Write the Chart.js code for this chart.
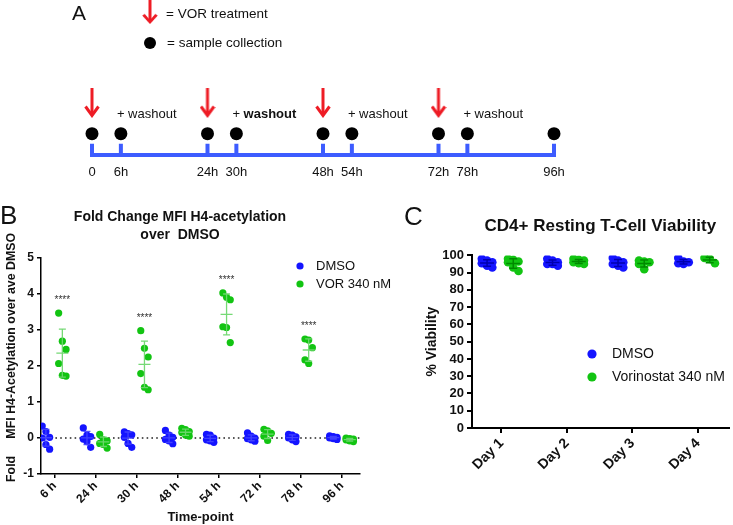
<!DOCTYPE html>
<html>
<head>
<meta charset="utf-8">
<script src="https://cdn.jsdelivr.net/npm/chart.js@4.4.1/dist/chart.umd.min.js"></script>
<style>
  body { margin: 0; background: #fff; }
  #wrap { position: relative; width: 733px; height: 525px; overflow: hidden; font-family: 'Liberation Sans', Arial, sans-serif; }
  canvas { position: absolute; }
  .panel { position: absolute; line-height: 1; color: #111; }
</style>
</head>
<body>
<div id="wrap">
  <canvas id="timeline" width="733" height="200" style="left:0;top:0"></canvas>
  <canvas id="acetyl" width="400" height="325" style="left:0;top:200px"></canvas>
  <canvas id="viability" width="333" height="325" style="left:400px;top:200px"></canvas>
  <div class="panel" style="left:72px;top:2px;font-size:21px">A</div>
  <div class="panel" style="left:0;top:202px;font-size:26px">B</div>
  <div class="panel" style="left:404px;top:203px;font-size:26px">C</div>
</div>
<script>
// Panel A: dosing / sampling schedule
const HOURS = [0, 6, 24, 30, 48, 54, 72, 78, 96];
const TREAT_HOURS = [0, 24, 48, 72];
const WASHOUT_HOURS = [6, 30, 54, 78];
const WASHOUT_BOLD = [false, true, false, false];

// Panel B: fold change MFI H4-acetylation over ave DMSO
const TIMEPOINTS = ['6 h', '24 h', '30 h', '48 h', '54 h', '72 h', '78 h', '96 h'];
const DMSO_FOLD = [
  [0.33, 0.18, 0.02, 0.00, -0.18, -0.31],
  [0.28, 0.08, 0.04, -0.03, -0.10, -0.26],
  [0.17, 0.12, 0.09, 0.02, -0.15, -0.26],
  [0.21, 0.08, 0.02, -0.04, -0.08, -0.16],
  [0.10, 0.08, 0.00, -0.05, -0.08, -0.12],
  [0.14, 0.05, 0.00, -0.02, -0.05, -0.09],
  [0.10, 0.08, 0.03, 0.00, -0.05, -0.10],
  [0.06, 0.04, 0.02, 0.00, -0.02, -0.04]
];
const VOR_FOLD = [
  [3.47, 2.69, 2.46, 2.07, 1.74, 1.72],
  [0.10, -0.05, -0.08, -0.15, -0.18, -0.28],
  [2.98, 2.49, 2.25, 1.79, 1.41, 1.34],
  [0.27, 0.23, 0.18, 0.15, 0.08, 0.05],
  [4.03, 3.91, 3.84, 3.09, 3.07, 2.65],
  [0.24, 0.20, 0.13, 0.05, -0.07],
  [2.75, 2.72, 2.51, 2.17, 2.07],
  [0.00, -0.02, -0.03, -0.05, -0.08, -0.10]
];
const SIGNIF = ['****', '', '****', '', '****', '', '****', ''];
const FOLD_TICKS = [-1, 0, 1, 2, 3, 4, 5];

// Panel C: CD4+ resting T-cell viability (%)
const DAYS = ['Day 1', 'Day 2', 'Day 3', 'Day 4'];
const DMSO_VIAB = [
  [98, 97, 96, 95.5, 94, 93],
  [98, 97, 96, 95, 95, 94],
  [98.5, 97, 96, 95, 94, 93],
  [98.5, 96.5, 96, 95.5, 95]
];
const VOR_VIAB = [
  [98, 97.5, 96.5, 96, 93, 91],
  [98, 97.5, 97, 96, 95.5, 95],
  [97, 96.5, 96, 95, 92],
  [98.5, 98, 95.5]
];
const VIAB_TICKS = [0, 10, 20, 30, 40, 50, 60, 70, 80, 90, 100];

const FONT = "'Liberation Sans', Arial, sans-serif";
Chart.defaults.font.family = FONT;
Chart.defaults.color = '#111';

const BLUE = '#1414ff';
const GREEN = '#12c412';
const LINE_BLUE = '#3d5cff';
const ARROW_RED = '#ee1c25';

function makeArrow() {
  const c = document.createElement('canvas');
  c.width = 16; c.height = 30;
  const g = c.getContext('2d');
  g.strokeStyle = ARROW_RED;
  g.lineWidth = 3;
  g.beginPath(); g.moveTo(8, 0); g.lineTo(8, 27); g.stroke();
  g.beginPath(); g.moveTo(1.5, 18.5); g.lineTo(8, 27.5); g.lineTo(14.5, 18.5); g.stroke();
  return c;
}
const arrowImg = makeArrow();

// spread the replicate dots of each group sideways around the group centre
function spread(groups, offset, width) {
  const pts = [];
  groups.forEach((vals, i) => {
    vals.forEach((v, j) => pts.push({ x: i + 1 + offset + ((j % 3) - 1) * width, y: v }));
  });
  return pts;
}

function meanSd(vals) {
  const m = vals.reduce((a, b) => a + b, 0) / vals.length;
  const sd = Math.sqrt(vals.reduce((a, b) => a + (b - m) * (b - m), 0) / (vals.length - 1));
  return { m, sd };
}

function errorBars(groups) {
  return {
    id: 'errorBars',
    afterDatasetsDraw(chart) {
      const { ctx, scales: { x, y } } = chart;
      ctx.save();
      groups.forEach(g => {
        ctx.strokeStyle = g.color;
        ctx.lineWidth = g.width;
        g.values.forEach((vals, i) => {
          const { m, sd } = meanSd(vals);
          const cx = x.getPixelForValue(i + 1 + g.offset);
          const ym = y.getPixelForValue(m);
          const yt = y.getPixelForValue(m + sd);
          const yb = y.getPixelForValue(m - sd);
          ctx.beginPath();
          ctx.moveTo(cx - g.meanHalf, ym); ctx.lineTo(cx + g.meanHalf, ym);
          ctx.moveTo(cx, yt); ctx.lineTo(cx, yb);
          ctx.moveTo(cx - g.capHalf, yt); ctx.lineTo(cx + g.capHalf, yt);
          ctx.moveTo(cx - g.capHalf, yb); ctx.lineTo(cx + g.capHalf, yb);
          ctx.stroke();
        });
      });
      ctx.restore();
    }
  };
}

function insetLegend(o) {
  return {
    id: 'insetLegend',
    afterDraw(chart) {
      const ctx = chart.ctx;
      ctx.save();
      ctx.font = o.size + 'px ' + FONT;
      ctx.textBaseline = 'middle';
      chart.data.datasets.filter(d => d.inLegend).forEach((d, i) => {
        const cy = o.y + i * o.gap;
        ctx.fillStyle = d.backgroundColor;
        ctx.beginPath(); ctx.arc(o.x, cy, o.r, 0, Math.PI * 2); ctx.fill();
        ctx.fillStyle = '#111';
        ctx.fillText(d.label, o.textX, cy);
      });
      ctx.restore();
    }
  };
}

const starsPlugin = {
  id: 'stars',
  afterDatasetsDraw(chart) {
    const { ctx, scales: { x, y } } = chart;
    ctx.save();
    ctx.font = '10px ' + FONT;
    ctx.fillStyle = '#333';
    ctx.textAlign = 'center';
    ctx.textBaseline = 'middle';
    SIGNIF.forEach((s, i) => {
      if (!s) return;
      const top = Math.max(...VOR_FOLD[i]);
      ctx.fillText(s, x.getPixelForValue(i + 1.19), y.getPixelForValue(top + 0.36));
    });
    ctx.restore();
  }
};

// ---------- Panel A ----------
const TICK_H = 12, DOT_Y = 23, ARROW_Y = 56, NOTE_Y = 44;
const timelineNotes = {
  id: 'timelineNotes',
  afterDraw(chart) {
    const { ctx, scales: { x, y } } = chart;
    ctx.save();
    ctx.fillStyle = '#111';
    ctx.textBaseline = 'middle';
    WASHOUT_HOURS.forEach((h, i) => {
      const px = x.getPixelForValue(h) - 4;
      const py = y.getPixelForValue(NOTE_Y);
      ctx.font = '13px ' + FONT;
      ctx.fillText('+ ', px, py);
      const w = ctx.measureText('+ ').width;
      ctx.font = (WASHOUT_BOLD[i] ? 'bold ' : '') + '13px ' + FONT;
      ctx.fillText('washout', px + w, py);
    });
    // key
    ctx.drawImage(arrowImg, 142, 0, 16, 24);
    ctx.fillStyle = '#000';
    ctx.beginPath(); ctx.arc(150, 43, 6, 0, Math.PI * 2); ctx.fill();
    ctx.fillStyle = '#111';
    ctx.font = '13.5px ' + FONT;
    ctx.fillText('= VOR treatment', 166, 14);
    ctx.fillText('= sample collection', 167, 43);
    ctx.restore();
  }
};

new Chart(document.getElementById('timeline'), {
  type: 'scatter',
  data: {
    datasets: [
      { data: [{ x: 0, y: 0 }, { x: 96, y: 0 }], showLine: true, borderColor: LINE_BLUE,
        borderWidth: 4, borderCapStyle: 'square', pointRadius: 0, clip: false },
      { data: HOURS.flatMap(h => [{ x: h, y: 0 }, { x: h, y: TICK_H }, { x: h, y: null }]),
        showLine: true, spanGaps: false, borderColor: LINE_BLUE, borderWidth: 4, pointRadius: 0, clip: false },
      { data: HOURS.map(h => ({ x: h, y: DOT_Y })), pointRadius: 6.5, backgroundColor: '#000',
        borderWidth: 0, clip: false },
      { data: TREAT_HOURS.map(h => ({ x: h, y: ARROW_Y })), pointStyle: arrowImg, pointRadius: 10, clip: false }
    ]
  },
  options: {
    responsive: false, animation: false, events: [],
    layout: { padding: { left: 92, right: 179, top: 0, bottom: 15 } },
    plugins: { legend: { display: false }, tooltip: { enabled: false } },
    scales: {
      x: {
        type: 'linear', min: 0, max: 96,
        afterBuildTicks: s => { s.ticks = HOURS.map(h => ({ value: h })); },
        afterFit: s => { s.height = 30; },
        grid: { display: false, drawTicks: false }, border: { display: false },
        ticks: { padding: 10, font: { size: 13 }, color: '#111', autoSkip: false, maxRotation: 0,
          callback: v => (v === 0 ? '0' : v + 'h') }
      },
      y: { display: false, min: 0, max: 155 }
    }
  },
  plugins: [timelineNotes]
});

// ---------- Panel B ----------
new Chart(document.getElementById('acetyl'), {
  type: 'scatter',
  data: {
    datasets: [
      { label: 'DMSO', inLegend: true, data: spread(DMSO_FOLD, -0.21, 0.09),
        backgroundColor: BLUE, borderWidth: 0, pointRadius: 3.6, order: 1 },
      { label: 'VOR 340 nM', inLegend: true, data: spread(VOR_FOLD, 0.19, 0.09),
        backgroundColor: GREEN, borderWidth: 0, pointRadius: 3.6, order: 1 },
      { label: 'zero', data: [{ x: 0.67, y: 0 }, { x: 8.44, y: 0 }], showLine: true, pointRadius: 0,
        borderColor: '#222', borderWidth: 1.6, borderDash: [1.6, 3.2], order: 5 }
    ]
  },
  options: {
    responsive: false, animation: false, events: [],
    layout: { padding: { left: 0, right: 40, top: 0, bottom: 0 } },
    plugins: {
      legend: { display: false }, tooltip: { enabled: false },
      title: { display: true, text: ['Fold Change MFI H4-acetylation', 'over  DMSO'], color: '#111',
        font: { size: 14, weight: 'bold', lineHeight: 1.3 }, padding: { top: 8, bottom: 13.6 } }
    },
    scales: {
      x: {
        type: 'linear', min: 0.67, max: 8.44,
        afterBuildTicks: s => { s.ticks = TIMEPOINTS.map((t, i) => ({ value: i + 1 })); },
        afterFit: s => { s.height = 51; },
        grid: { display: true, drawOnChartArea: false, color: '#000', lineWidth: 1.5, tickLength: 4 },
        border: { color: '#000', width: 1.5 },
        ticks: { autoSkip: false, minRotation: 45, maxRotation: 45, padding: 1, color: '#111',
          font: { size: 12, weight: 'bold' }, callback: (v, i) => TIMEPOINTS[i] },
        title: { display: true, text: 'Time-point', color: '#111', font: { size: 13, weight: 'bold' },
          padding: { top: 0, bottom: 0 } }
      },
      y: {
        min: -1, max: 5,
        afterBuildTicks: s => { s.ticks = FOLD_TICKS.map(v => ({ value: v })); },
        afterFit: s => { s.width = 41; },
        grid: { display: true, drawOnChartArea: false, color: '#000', lineWidth: 1.5, tickLength: 4 },
        border: { color: '#000', width: 1.5 },
        ticks: { autoSkip: false, padding: 3, color: '#111', font: { size: 12, weight: 'bold' } },
        title: { display: true, text: '     Fold     MFI H4-Acetylation over ave DMSO', color: '#111',
          font: { size: 12.4, weight: 'bold' }, padding: { top: 4, bottom: 0 } }
      }
    }
  },
  plugins: [
    errorBars([
      { values: DMSO_FOLD, offset: -0.21, color: 'rgba(70,70,255,0.9)', width: 1.3, meanHalf: 6, capHalf: 3.5 },
      { values: VOR_FOLD, offset: 0.19, color: 'rgba(110,215,110,0.95)', width: 1.3, meanHalf: 6, capHalf: 3.5 }
    ]),
    starsPlugin,
    insetLegend({ x: 300, y: 66, gap: 18, r: 3.6, textX: 316, size: 13 })
  ]
});

// ---------- Panel C ----------
new Chart(document.getElementById('viability'), {
  type: 'scatter',
  data: {
    datasets: [
      { label: 'DMSO', inLegend: true, data: spread(DMSO_VIAB, -0.22, 0.08),
        backgroundColor: BLUE, borderWidth: 0, pointRadius: 4.3 },
      { label: 'Vorinostat 340 nM', inLegend: true, data: spread(VOR_VIAB, 0.18, 0.08),
        backgroundColor: GREEN, borderWidth: 0, pointRadius: 4.3 }
    ]
  },
  options: {
    responsive: false, animation: false, events: [],
    layout: { padding: { left: 0, right: 0, top: 0, bottom: 0 } },
    plugins: {
      legend: { display: false }, tooltip: { enabled: false },
      title: { display: true, fullSize: false, text: 'CD4+ Resting T-Cell Viability', color: '#111',
        font: { size: 17, weight: 'bold', lineHeight: 1.2 }, padding: { top: 16, bottom: 19 } }
    },
    scales: {
      x: {
        type: 'linear', min: 0.55, max: 4.47,
        afterBuildTicks: s => { s.ticks = DAYS.map((d, i) => ({ value: i + 1 })); },
        afterFit: s => { s.height = 97; },
        grid: { display: true, drawOnChartArea: false, color: '#000', lineWidth: 2, tickLength: 5 },
        border: { color: '#000', width: 2 },
        ticks: { autoSkip: false, minRotation: 45, maxRotation: 45, padding: 2, color: '#111',
          font: { size: 14, weight: 'bold' }, callback: (v, i) => DAYS[i] }
      },
      y: {
        min: 0, max: 100,
        afterBuildTicks: s => { s.ticks = VIAB_TICKS.map(v => ({ value: v })); },
        ticks: { autoSkip: false, padding: 3, color: '#111', font: { size: 13, weight: 'bold' } },
        afterFit: s => { s.width = 72; },
        grid: { display: true, drawOnChartArea: false, color: '#000', lineWidth: 2, tickLength: 5 },
        border: { color: '#000', width: 2 },
        title: { display: true, text: '% Viability', color: '#111', font: { size: 14, weight: 'bold' },
          padding: { top: 24, bottom: 0 } }
      }
    }
  },
  plugins: [
    errorBars([
      { values: DMSO_VIAB, offset: -0.22, color: '#0000b0', width: 1.5, meanHalf: 7, capHalf: 4 },
      { values: VOR_VIAB, offset: 0.18, color: '#008a00', width: 1.5, meanHalf: 7, capHalf: 4 }
    ]),
    insetLegend({ x: 192, y: 154, gap: 23, r: 4.6, textX: 212, size: 14 })
  ]
});
</script>
</body>
</html>
